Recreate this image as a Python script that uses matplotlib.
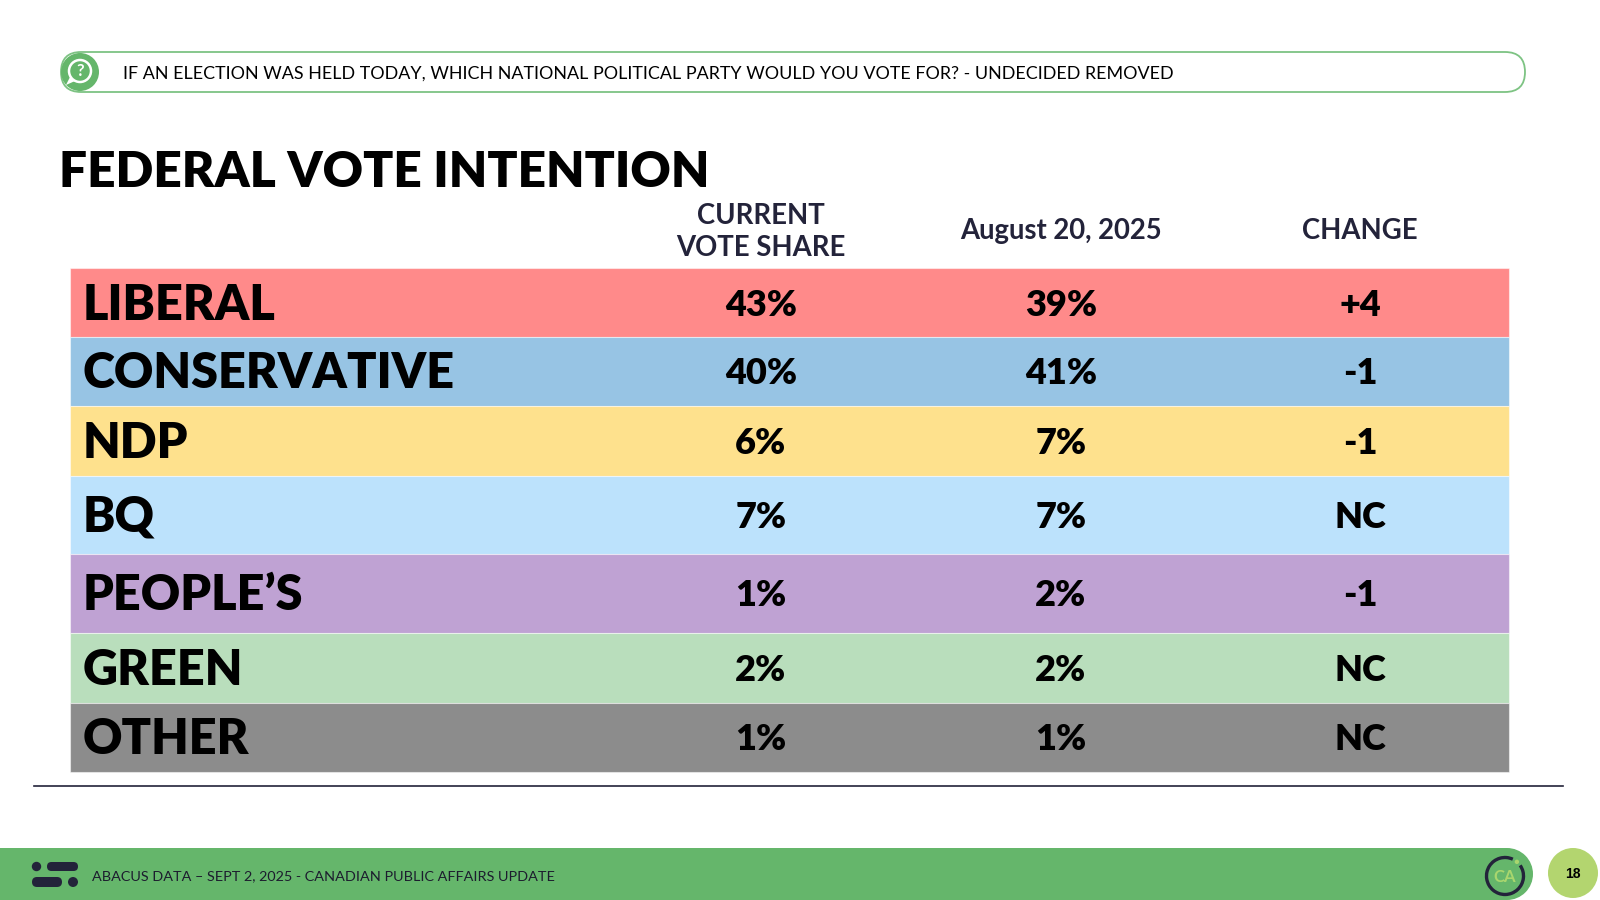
"""Federal vote intention table, Abacus Data slide style."""
import numpy as np
import matplotlib
matplotlib.use("Agg")
import matplotlib.pyplot as plt
from matplotlib.patches import Circle, Rectangle, FancyBboxPatch, Arc, Polygon

# --- data -------------------------------------------------------------
parties = ["LIBERAL", "CONSERVATIVE", "NDP", "BQ", "PEOPLE’S", "GREEN", "OTHER"]
current = [43, 40, 6, 7, 1, 2, 1]
previous = [39, 41, 7, 7, 2, 2, 1]
col_headers = ["CURRENT\nVOTE SHARE", "August 20, 2025", "CHANGE"]
row_colors = ["#FF8A8A", "#97C4E4", "#FEE18D", "#BCE2FC",
              "#BFA2D3", "#B9DEBC", "#8C8C8C"]

question = ("IF AN ELECTION WAS HELD TODAY, WHICH NATIONAL POLITICAL PARTY "
            "WOULD YOU VOTE FOR? - UNDECIDED REMOVED")
title = "FEDERAL VOTE INTENTION"
footer = "ABACUS DATA – SEPT 2, 2025 - CANADIAN PUBLIC AFFAIRS UPDATE"
page = "18"

NAVY = "#23233A"
GREEN = "#65B66B"
FONT = ["Lato", "DejaVu Sans"]


def fmt_change(c, p):
    d = c - p
    return "NC" if d == 0 else f"{d:+d}"


plt.rcParams["font.family"] = FONT
fig = plt.figure(figsize=(16, 9), dpi=100)
ax = fig.add_axes([0, 0, 1, 1])
ax.set_xlim(0, 1600)
ax.set_ylim(900, 0)
ax.axis("off")

# question pill
ax.add_patch(FancyBboxPatch((61, 52), 1464, 40,
                            boxstyle="round,pad=0,rounding_size=20",
                            fc="white", ec="#7DC383", lw=1.3))
ax.add_patch(Circle((80, 72), 19, fc=GREEN, ec="none"))
ax.add_patch(Circle((80, 71), 11, fc="none", ec="white", lw=1.8))
ax.add_patch(Polygon([[70, 77], [66, 85], [75, 81]], closed=True,
                     fc="white", ec="none"))
ax.text(80, 71.5, "?", color="white", fontsize=12, fontweight="bold",
        ha="center", va="center")
ax.text(123, 73.5, question, fontsize=12.9, color="black",
        ha="left", va="center")

# title
ax.text(59, 187, title, fontsize=35.7, fontweight="heavy", color="black",
        ha="left", va="baseline")

# table rows
row_edges = np.array([268, 337, 406, 476, 554, 633, 703, 772])
heights = np.diff(row_edges)
centers = row_edges[:-1] + heights / 2
ax.barh(centers, 1439, left=70, height=heights, color=row_colors,
        edgecolor="#FFFFFF80", linewidth=0.8)

col_x = [761, 1061, 1360]
ax.text(col_x[0], 232, col_headers[0], fontsize=19.8, fontweight="bold",
        color=NAVY, ha="center", va="center", linespacing=1.3)
for x, h in zip(col_x[1:], col_headers[1:]):
    ax.text(x, 231, h, fontsize=19.8, fontweight="bold", color=NAVY,
            ha="center", va="center")

for yc, name, c, p in zip(centers, parties, current, previous):
    ax.text(83, yc + 17, name, fontsize=35, fontweight="heavy", color="black",
            ha="left", va="baseline")
    vals = [f"{c}%", f"{p}%", fmt_change(c, p)]
    for x, v in zip(col_x, vals):
        ax.text(x, yc + 13, v, fontsize=26, fontweight="heavy", color="black",
                ha="center", va="baseline")

# separator
ax.plot([34, 1563], [786, 786], color=NAVY, lw=1.2)

# footer band
ax.add_patch(Rectangle((0, 848), 1507, 60, fc=GREEN, ec="none"))
ax.add_patch(Circle((1507, 874), 26, fc=GREEN, ec="none"))

# abacus logo
ax.add_patch(Circle((36.5, 866.5), 4.7, fc=NAVY, ec="none"))
ax.add_patch(FancyBboxPatch((47, 862), 31, 9,
                            boxstyle="round,pad=0,rounding_size=4.5",
                            fc=NAVY, ec="none"))
ax.add_patch(FancyBboxPatch((32, 877), 30, 10,
                            boxstyle="round,pad=0,rounding_size=5",
                            fc=NAVY, ec="none"))
ax.add_patch(Circle((73, 882), 5, fc=NAVY, ec="none"))
ax.text(92, 876, footer, fontsize=10.4, color="#1C1C2E", ha="left", va="center")

# CA badge
ax.add_patch(Arc((1505, 876), 37, 37, theta1=-35, theta2=295,
                 color=NAVY, lw=2.4))
a = np.deg2rad(-50)
ax.add_patch(Circle((1505 + 18.5 * np.cos(a), 876 + 18.5 * np.sin(a)), 2.2,
                    fc="#A9D66E", ec="none"))
ax.text(1505, 877, "CA", fontsize=12, fontweight="bold", color="#A9D66E",
        ha="center", va="center")

# page number
ax.add_patch(Circle((1573, 873), 25, fc="#B3D56F", ec="none"))
ax.text(1573, 874, page, fontsize=10, fontweight="bold", color="black",
        family=["Arial", "Liberation Sans", "DejaVu Sans"],
        ha="center", va="center")

fig.savefig("out.png", dpi=100)
